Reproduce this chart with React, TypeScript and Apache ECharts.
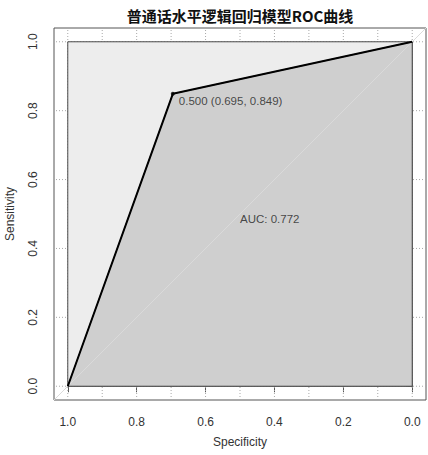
import React, { useEffect, useRef } from "react";
import * as echarts from "echarts";

const titleText = "普通话水平逻辑回归模型ROC曲线";
const rocSpecificity = [1.0, 0.695, 0.0];
const rocSensitivity = [0.0, 0.849, 1.0];
const bestThreshold = 0.5;
const bestSpecificity = 0.695;
const bestSensitivity = 0.849;
const aucValue = 0.772;
const maxSpecificity = [1, 1, 0, 0];
const maxSensitivity = [0, 1, 1, 0];
const xTickValues = [1.0, 0.8, 0.6, 0.4, 0.2, 0.0];
const yTickValues = [0.0, 0.2, 0.4, 0.6, 0.8, 1.0];
const xGridValues = [0, 0.1, 0.2, 0.3, 0.4, 0.5, 0.6, 0.7, 0.8, 0.9, 1.0];
const yGridValues = [0, 0.2, 0.4, 0.6, 0.8, 1.0];
const axisMin = -0.04;
const axisMax = 1.04;

const FONT = "'Liberation Sans', Arial, sans-serif";

export default function App() {
  const ref = useRef<HTMLDivElement>(null);
  useEffect(() => {
    document.body.style.margin = "0";
    const chart = echarts.init(ref.current!, null, { renderer: "svg" });
    const gridStyle = { stroke: "#a8a8a8", lineWidth: 1, lineDash: [1, 2] };
    const option: any = {
      animation: false,
      backgroundColor: "#ffffff",
      graphic: [
        {
          type: "text",
          x: 240,
          y: 15,
          style: {
            text: titleText,
            fontSize: 15,
            fontWeight: "bold",
            fontFamily: "'Noto Sans CJK SC', sans-serif",
            fill: "#111",
            align: "center",
            verticalAlign: "middle",
          },
        },
      ],
      grid: {
        left: 54,
        top: 28,
        width: 372,
        height: 372,
        outerBoundsMode: "none",
        containLabel: false,
        show: true,
        borderColor: "#555",
        borderWidth: 1,
        backgroundColor: "transparent",
      },
      xAxis: {
        type: "value",
        inverse: true,
        min: axisMin,
        max: axisMax,
        name: "Specificity",
        nameLocation: "middle",
        nameGap: 36,
        nameTextStyle: { fontFamily: FONT, fontSize: 12, color: "#333" },
        axisLine: { show: false },
        splitLine: { show: false },
        axisTick: {
          show: true,
          length: 6,
          lineStyle: { color: "#555" },
          customValues: xTickValues,
        },
        axisLabel: {
          customValues: xTickValues,
          formatter: (v: number) => v.toFixed(1),
          fontFamily: FONT,
          fontSize: 12,
          color: "#333",
          margin: 16,
        },
      },
      yAxis: {
        type: "value",
        min: axisMin,
        max: axisMax,
        name: "Sensitivity",
        nameLocation: "middle",
        nameGap: 38,
        nameTextStyle: { fontFamily: FONT, fontSize: 12, color: "#333" },
        axisLine: { show: false },
        splitLine: { show: false },
        axisTick: {
          show: true,
          length: 6,
          lineStyle: { color: "#555" },
          customValues: yTickValues,
        },
        axisLabel: {
          customValues: yTickValues,
          formatter: (v: number) => v.toFixed(1),
          fontFamily: FONT,
          fontSize: 12,
          color: "#333",
          rotate: 90,
          margin: 15,
        },
      },
      series: [
        {
          type: "custom",
          silent: true,
          clip: false,
          data: xGridValues.map((v) => [v, 0]),
          renderItem: (params: any, api: any) => {
            const v = xGridValues[params.dataIndex];
            const a = api.coord([v, axisMin]);
            const b = api.coord([v, axisMax]);
            return { type: "line", shape: { x1: a[0], y1: a[1], x2: b[0], y2: b[1] }, style: gridStyle };
          },
        },
        {
          type: "custom",
          silent: true,
          clip: false,
          data: yGridValues.map((v) => [0, v]),
          renderItem: (params: any, api: any) => {
            const v = yGridValues[params.dataIndex];
            const a = api.coord([axisMin, v]);
            const b = api.coord([axisMax, v]);
            return { type: "line", shape: { x1: a[0], y1: a[1], x2: b[0], y2: b[1] }, style: gridStyle };
          },
        },
        {
          type: "custom",
          silent: true,
          clip: false,
          data: [[0, 0]],
          renderItem: (params: any, api: any) => ({
            type: "polygon",
            shape: { points: maxSpecificity.map((x, i) => api.coord([x, maxSensitivity[i]])) },
            style: { fill: "#ededed", stroke: "#4a4a4a", lineWidth: 1 },
          }),
        },
        {
          type: "custom",
          silent: true,
          clip: false,
          data: [[0, 0]],
          renderItem: (params: any, api: any) => {
            const pts = rocSpecificity.map((x, i) => api.coord([x, rocSensitivity[i]]));
            pts.push(api.coord([0, 0]));
            return {
              type: "polygon",
              shape: { points: pts },
              style: { fill: "#cfcfcf", stroke: "#4a4a4a", lineWidth: 1 },
            };
          },
        },
        {
          type: "line",
          silent: true,
          symbol: "none",
          data: [
            [axisMax, 1 - axisMax],
            [axisMin, 1 - axisMin],
          ],
          lineStyle: { color: "#dadada", width: 1 },
        },
        {
          type: "line",
          silent: true,
          symbol: "none",
          data: rocSpecificity.map((x, i) => [x, rocSensitivity[i]]),
          lineStyle: { color: "#000", width: 2 },
        },
        {
          type: "scatter",
          silent: true,
          symbolSize: 4,
          itemStyle: { color: "#000" },
          data: [[bestSpecificity, bestSensitivity]],
          label: {
            show: true,
            position: "right",
            distance: 4,
            offset: [0, 7],
            formatter: () =>
              `${bestThreshold.toFixed(3)} (${bestSpecificity.toFixed(3)}, ${bestSensitivity.toFixed(3)})`,
            fontFamily: FONT,
            fontSize: 11.5,
            color: "#222",
          },
        },
        {
          type: "scatter",
          silent: true,
          symbolSize: 0,
          data: [[0.5, 0.5]],
          label: {
            show: true,
            position: [0, 5],
            align: "left",
            verticalAlign: "middle",
            formatter: () => `AUC: ${aucValue.toFixed(3)}`,
            fontFamily: FONT,
            fontSize: 11.5,
            color: "#222",
          },
        },
      ],
    };
    chart.setOption(option);
    return () => chart.dispose();
  }, []);
  return <div ref={ref} style={{ width: 428, height: 455 }} />;
}
